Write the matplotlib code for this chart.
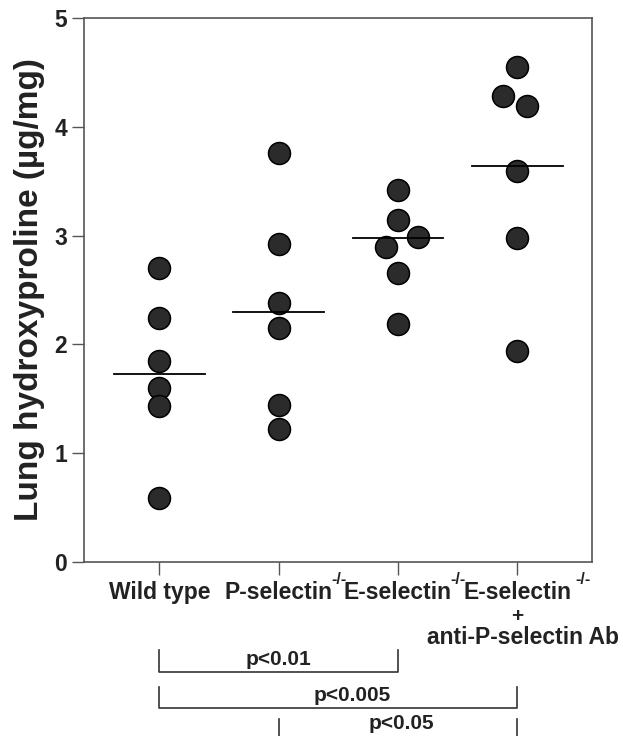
import numpy as np
import matplotlib
matplotlib.use("Agg")
import matplotlib.pyplot as plt

plt.rcParams['font.family'] = ['Liberation Sans', 'DejaVu Sans']
plt.rcParams['font.weight'] = 'bold'

# groups on the x axis (extra lines below the first go under the tick label)
groups = ["Wild type", "P-selectin", "E-selectin", "E-selectin\n+\nanti-P-selectin Ab"]
sup = ["", "-/-", "-/-", "-/-"]

# lung hydroxyproline, ug/mg, one value per mouse
wild_type = [2.70, 2.24, 1.85, 1.60, 1.43, 0.59]
p_ko = [3.76, 2.92, 2.38, 2.15, 1.44, 1.22]
e_ko = [3.42, 3.14, 2.99, 2.90, 2.66, 2.19]
e_ko_ab = [4.55, 4.28, 4.19, 3.59, 2.98, 1.94]
means = [1.73, 2.30, 2.98, 3.64]

yticks = [0, 1, 2, 3, 4, 5]

# significance brackets (group index pairs, 1-based)
p_pairs = [(1, 3), (1, 4), (2, 4)]
p_labels = ["p<0.01", "p<0.005", "p<0.05"]

series = [wild_type, p_ko, e_ko, e_ko_ab]
# horizontal spread of overlapping dots
jitter = [[0, 0, 0, 0, 0, 0],
          [0, 0, 0, 0, 0, 0],
          [0, 0, 0.17, -0.10, 0, 0],
          [0, -0.117, 0.08, 0, 0, 0]]

fig = plt.figure(figsize=(6.23, 7.36), dpi=100)
ax = fig.add_axes([0.1348, 0.2364, 0.8154, 0.7391])

x = np.arange(1, len(groups) + 1)
for xi, vals, dx, m in zip(x, series, jitter, means):
    ax.scatter(xi + np.array(dx), vals, s=250, facecolor='#2b2b2b',
               edgecolor='black', linewidth=1.1, zorder=3, clip_on=False)
    ax.plot([xi - 0.38, xi + 0.38], [m, m], color='black', lw=1.3, zorder=4)

ax.set_xlim(0.369, 4.626)
ax.set_ylim(0, 5)
ax.set_yticks(yticks)
ax.set_xticks(x)
first_lines = [g.split("\n")[0] for g in groups]
ax.set_xticklabels(first_lines, fontsize=16.5, fontweight='bold', color='#222222')
ax.set_yticklabels([str(t) for t in yticks], fontsize=16.5, fontweight='bold',
                   color='#222222')

for s in ax.spines.values():
    s.set_color('#555555')
    s.set_linewidth(1.2)
ax.tick_params(direction='out', length=9, width=1.0, color='#555555')
ax.tick_params(axis='y', pad=3)
ax.tick_params(axis='x', pad=5)

ax.set_ylabel('Lung hydroxyproline (µg/mg)', fontsize=24, fontweight='bold',
              labelpad=7, color='#222222')

# remaining label lines ("+", "anti-P-selectin Ab")
extra_dx = [0, 4]
extra_dy = [-43, -59]
extra_fs = [15, 16.5]
for xi, g in zip(x, groups):
    for line, ddx, ddy, fs in zip(g.split("\n")[1:], extra_dx, extra_dy, extra_fs):
        ax.annotate(line, xy=(xi, 0), xycoords=('data', 'axes fraction'),
                    xytext=(ddx, ddy), textcoords='offset points',
                    ha='center', va='baseline', fontsize=fs,
                    fontweight='bold', color='#222222', annotation_clip=False)

# -/- superscripts next to the knockout labels
sup_dx = [0, 38, 37.5, 42]
for xi, s, dx in zip(x, sup, sup_dx):
    if s:
        ax.annotate(s, xy=(xi, 0), xycoords=('data', 'axes fraction'),
                    xytext=(dx, -15.5), textcoords='offset points',
                    ha='left', va='baseline', fontsize=11.5,
                    fontweight='bold', color='#222222', annotation_clip=False)

# brackets below the plot, drawn in data units under y=0
rows = [(-0.809, -1.011), (-1.146, -1.339), (-1.443, -1.70)]
text_x = [2.0, 2.62, 3.03]
text_y = [-0.947, -1.278, -1.535]
for (a, b), lab, (top, bot), tx, ty in zip(p_pairs, p_labels, rows, text_x, text_y):
    ax.plot([a, a, b, b], [top, bot, bot, top], color='#333333', lw=1.2,
            clip_on=False)
    ax.text(tx, ty, lab, ha='center', va='baseline', fontsize=15,
            fontweight='bold', color='#222222', clip_on=False)

fig.savefig('out.png', dpi=100)
